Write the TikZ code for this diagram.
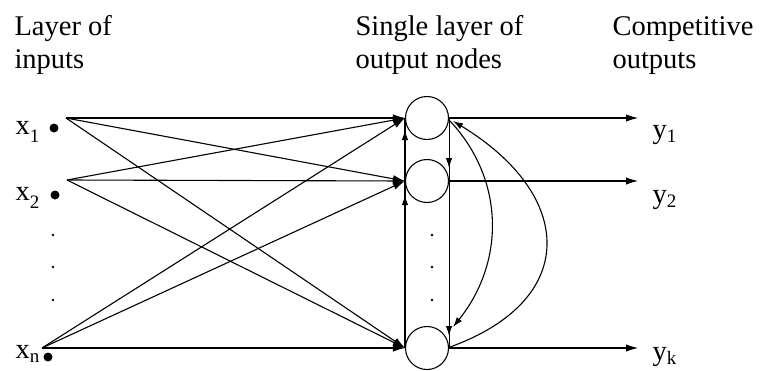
\documentclass[tikz,border=0pt]{standalone}
\usepackage{fontspec}
\setmainfont{Liberation Serif}
\usetikzlibrary{arrows.meta,calc}
\newcommand{\lowsub}[3]{#1\raisebox{-#3pt}{\fontsize{19}{19}\selectfont #2}}
\begin{document}
\begin{tikzpicture}[x=1pt,y=-1pt,line width=1.1pt,
  txt/.style={font=\fontsize{28.5}{33}\selectfont,inner sep=0pt,anchor=base west},
  neuron/.style={draw,circle,minimum size=43pt,inner sep=0pt,line width=1.1pt},
  bigdot/.style={fill,circle,minimum size=9pt,inner sep=0pt},
  smalldot/.style={fill,circle,minimum size=2.6pt,inner sep=0pt},
  inarr/.style={-{Latex[length=12pt,width=7.5pt]}},
  colarr/.style={-{Latex[length=10pt,width=6.5pt]}}]
\useasboundingbox (0,0) rectangle (761,370);
% header texts
\node[txt] (h1a) at (14,35) {Layer of};
\node[txt] (h1b) at (14,68) {inputs};
\node[txt] (h2a) at (355,35) {Single layer of};
\node[txt] (h2b) at (355,68) {output nodes};
\node[txt] (h3a) at (612,35) {Competitive};
\node[txt] (h3b) at (612,68) {outputs};
% inputs
\node[txt] (lx1) at (15,134) {\lowsub{x}{1}{8}};
\node[txt] (lx2) at (15,200) {\lowsub{x}{2}{8}};
\node[txt] (lxn) at (15,358) {\lowsub{x}{n}{4}};
\node[bigdot] (d1) at (54,128) {};
\node[bigdot] (d2) at (55,195) {};
\node[bigdot] (dn) at (48,357) {};
\node[smalldot] (e1) at (53,235) {};
\node[smalldot] (e2) at (53,267) {};
\node[smalldot] (e3) at (53,300) {};
\coordinate (s1) at (66,118);
\coordinate (s2) at (67,180);
\coordinate (sn) at (42,348);
% output nodes
\node[neuron] (c1) at (427,118) {};
\node[neuron] (c2) at (427,181) {};
\node[neuron] (ck) at (427,348) {};
\node[smalldot] (m1) at (432,235) {};
\node[smalldot] (m2) at (432,267) {};
\node[smalldot] (m3) at (432,300) {};
% input connections
\foreach \s in {s1,s2,sn}
  \foreach \t in {c1,c2,ck}
    \draw[inarr] (\s) -- (\t.west);
% column ring
\draw (c1.west) -- (ck.west);
\draw (c1.east) -- (ck.east);
\draw[colarr] (c2.west) -- ($(c1.west)+(0,12)$);
\draw[colarr] (ck.west) -- ($(c2.west)+(0,14)$);
\draw[colarr] (c1.east) -- ($(c2.east)+(0,-13)$);
\draw[colarr] (c2.east) -- ($(ck.east)+(0,-12)$);
% feedback curves
\draw[colarr] ($(c1.east)+(1,3)$) .. controls (505,180) and (505,262) .. ($(ck.east)+(4,-21)$);
\draw[colarr] ($(ck.east)+(1,-1)$) .. controls (580,300) and (575,195) .. ($(c1.east)+(4,3)$);
% outputs
\coordinate (o1) at (638,118);
\coordinate (o2) at (638,181);
\coordinate (ok) at (638,348);
\draw[inarr] (c1.east) -- (o1);
\draw[inarr] (c2.east) -- (o2);
\draw[inarr] (ck.east) -- (ok);
\node[txt] (ly1) at (652,138) {\lowsub{y}{1}{4}};
\node[txt] (ly2) at (652,203) {\lowsub{y}{2}{4}};
\node[txt] (lyk) at (652,360) {\lowsub{y}{k}{4}};
\end{tikzpicture}
\end{document}
